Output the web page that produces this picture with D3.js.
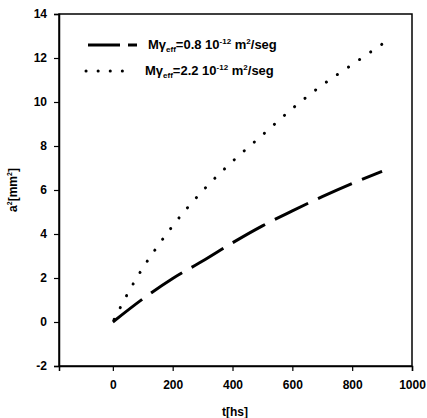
<!DOCTYPE html>
<html><head><meta charset="utf-8">
<script src="https://cdn.jsdelivr.net/npm/d3@7"></script>
<style>body{margin:0;background:#fff}svg text{font-family:"Liberation Sans",Arial,sans-serif;fill:#000}</style>
</head><body>
<svg id="c" width="427" height="418"></svg>
<script>
const tHours = [0,100,200,300,400,500,600,700,800,900];
const seriesLow = [0,1.05,1.98,2.77,3.6,4.37,5.05,5.7,6.3,6.85];
const seriesHighT = [0,25,50,100,150,200,300,400,500,600,700,800,900];
const seriesHigh = [0,0.66,1.3,2.45,3.45,4.37,5.96,7.3,8.5,9.7,10.77,11.7,12.63];
const xTicks = [0,200,400,600,800,1000];
const yTicks = [-2,0,2,4,6,8,10,12,14];

const svg = d3.select("#c");
const L=59,R=412,T=14,B=366;
const x = d3.scaleLinear().domain([-180,1000]).range([L,R]);
const y = d3.scaleLinear().domain([-2,14]).range([B,T]);

svg.append("rect").attr("x",L).attr("y",T).attr("width",R-L).attr("height",B-T)
  .attr("fill","none").attr("stroke","#000").attr("stroke-width",1.5);

const fmt = d => String(d);
const xa = svg.append("g").attr("transform",`translate(0,${B})`)
  .call(d3.axisBottom(x).tickValues(xTicks).tickSize(5).tickPadding(9).tickFormat(fmt));
const ya = svg.append("g").attr("transform",`translate(${L},0)`)
  .call(d3.axisLeft(y).tickValues(yTicks).tickSize(5).tickPadding(7).tickFormat(fmt));
[xa,ya].forEach(a=>{
  a.select(".domain").attr("stroke","#000").attr("stroke-width",1.5);
  a.selectAll(".tick line").attr("stroke","#000").attr("stroke-width",1.2);
  a.selectAll(".tick text").attr("font-size",12).attr("font-weight","bold").style("font-family","Liberation Sans, Arial, sans-serif");
});

const line = d3.line().curve(d3.curveMonotoneX);
svg.append("path")
  .attr("d", line(tHours.map((t,i)=>[x(t),y(seriesLow[i])])))
  .attr("fill","none").attr("stroke","#000").attr("stroke-width",3)
  .attr("stroke-dasharray","37,11");
const dot = svg.append("path")
  .attr("d", line(seriesHighT.map((t,i)=>[x(t),y(seriesHigh[i])])))
  .attr("fill","none").attr("stroke","#000").attr("stroke-width",3)
  .attr("stroke-linecap","round").attr("stroke-dasharray","0.1,13.3");
const len = dot.node().getTotalLength();
dot.attr("stroke-dashoffset", 13.4 - (len % 13.4) + 0.5);

const lg = svg.append("g");
lg.append("line").attr("x1",88).attr("x2",120).attr("y1",45).attr("y2",45)
  .attr("stroke","#000").attr("stroke-width",3);
lg.append("line").attr("x1",128).attr("x2",137).attr("y1",45).attr("y2",45)
  .attr("stroke","#000").attr("stroke-width",3);
lg.append("line").attr("x1",86).attr("x2",134).attr("y1",71).attr("y2",71)
  .attr("stroke","#000").attr("stroke-width",3).attr("stroke-linecap","round")
  .attr("stroke-dasharray","0.1,12");

function legendText(yy, xx, val){
  const t = lg.append("text").attr("x",xx).attr("y",yy).attr("font-size",13).attr("font-weight","bold");
  t.append("tspan").text("Mγ");
  t.append("tspan").attr("font-size",8).attr("dy",3).text("eff");
  t.append("tspan").attr("dy",-3).text("="+val+" 10");
  t.append("tspan").attr("font-size",8).attr("dy",-5).text("-12");
  t.append("tspan").attr("dy",5).text(" m");
  t.append("tspan").attr("font-size",8).attr("dy",-5).text("2");
  t.append("tspan").attr("dy",5).text("/seg");
}
legendText(49,148,"0.8");
legendText(75,145,"2.2");

svg.append("text").attr("x",235).attr("y",416).attr("text-anchor","middle")
  .attr("font-size",12).attr("font-weight","bold").text("t[hs]");
const yl = svg.append("text").attr("transform","translate(17,190) rotate(-90)")
  .attr("text-anchor","middle").attr("font-size",12).attr("font-weight","bold");
yl.append("tspan").text("a");
yl.append("tspan").attr("font-size",7).attr("dy",-5).text("2");
yl.append("tspan").attr("dy",5).text("[mm");
yl.append("tspan").attr("font-size",7).attr("dy",-5).text("2");
yl.append("tspan").attr("dy",5).text("]");
</script>
</body></html>
